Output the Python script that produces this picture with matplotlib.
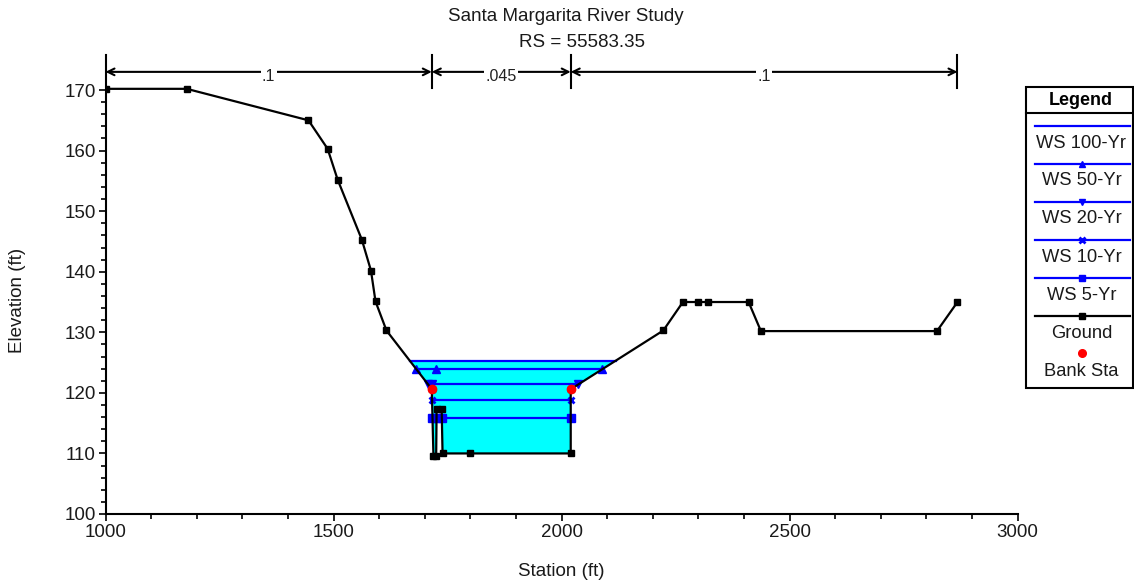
import matplotlib
matplotlib.use('Agg')
import matplotlib.pyplot as plt
import numpy as np
from matplotlib.lines import Line2D
from matplotlib.patches import Rectangle
from matplotlib.ticker import MultipleLocator

plt.rcParams['font.family'] = ['Liberation Sans', 'DejaVu Sans']
FS = 13.5

# ---------------- data ----------------
ground_sta = [1000, 1178, 1445, 1487, 1509, 1562, 1582, 1592, 1616, 1715.4,
              1719, 1725, 1726, 1737, 1739, 1800, 2020, 2020,
              2223, 2266, 2299, 2321, 2410, 2437, 2823, 2868]
ground_elev = [170.2, 170.2, 165.0, 160.3, 155.2, 145.3, 140.2, 135.1, 130.3, 120.6,
               109.6, 109.6, 117.4, 117.4, 110.0, 110.0, 110.0, 120.6,
               130.3, 135.0, 135.0, 135.0, 135.0, 130.2, 130.2, 135.0]
bank_sta = [1715.4, 2020]
bank_elev = [120.6, 120.6]

ws_names = ['WS 100-Yr', 'WS 50-Yr', 'WS 20-Yr', 'WS 10-Yr', 'WS 5-Yr']
ws_elev = [125.3, 123.9, 121.4, 118.9, 115.9]
ws_markers = [None, '^', 'v', 'x', 's']
ws_extra_marker_sta = [[], [1725], [1715.4], [], []]

n_sta = [1000, 1715.4, 2020, 2868]
n_vals = ['.1', '.045', '.1']

title1 = 'Santa Margarita River Study'
title2 = 'RS = 55583.35'

# ---------------- helpers ----------------
def crossings(xs, ys, level):
    out = []
    for i in range(len(xs) - 1):
        y0, y1 = ys[i], ys[i + 1]
        if (y0 - level) * (y1 - level) < 0:
            t = (level - y0) / (y1 - y0)
            out.append(xs[i] + t * (xs[i + 1] - xs[i]))
    return out

W, H = 1134, 584
fig = plt.figure(figsize=(W / 100, H / 100), dpi=100)
ax = fig.add_axes([105.5 / W, (H - 514) / H, 912.2 / W, (514 - 53.7) / H])
ax.set_xlim(1000, 3000)
ax.set_ylim(100, 176)

BLUE = '#0000FF'

# water fill (highest water surface)
top = ws_elev[0]
cr = crossings(ground_sta, ground_elev, top)
xl, xr = cr[0], cr[-1]
poly_x = [xl] + [s for s in ground_sta if xl < s < xr] + [xr]
poly_y = [top] + [e for s, e in zip(ground_sta, ground_elev) if xl < s < xr] + [top]
ax.fill(poly_x, poly_y, color='#00FFFF', lw=0, zorder=1)

# water surface lines
for name, lev, mk, extra in zip(ws_names, ws_elev, ws_markers, ws_extra_marker_sta):
    c = crossings(ground_sta, ground_elev, lev)
    ax.plot([c[0], c[-1]], [lev, lev], color=BLUE, lw=1.6, zorder=3)
    if mk is not None:
        mx = list(c) + list(extra)
        kw = dict(markersize=5.5)
        if mk == 'x':
            kw = dict(markersize=5, markeredgewidth=2)
        ax.plot(mx, [lev] * len(mx), ls='none', marker=mk, color=BLUE, zorder=4, **kw)

# ground
ax.plot(ground_sta, ground_elev, color='black', lw=1.6, marker='s', markersize=5, zorder=5)
ax.plot(bank_sta, bank_elev, ls='none', marker='o', color='red', markersize=6, zorder=6)

# axes styling
for sp in ['top', 'right']:
    ax.spines[sp].set_visible(False)
ax.spines['left'].set_bounds(100, 170)
ax.spines['left'].set_linewidth(1.5)
ax.spines['bottom'].set_linewidth(1.5)
ax.set_yticks(np.arange(100, 171, 10))
ax.set_yticks(np.arange(100, 171, 2), minor=True)
ax.xaxis.set_major_locator(MultipleLocator(500))
ax.xaxis.set_minor_locator(MultipleLocator(100))
ax.tick_params(which='major', direction='out', length=5, width=1.2, labelsize=FS,
               pad=2, labelcolor='#1a1a1a')
ax.tick_params(which='minor', direction='out', length=3.5, width=1.2)

# n-value annotations
y_arrow = 173.0
for i in range(len(n_sta)):
    ax.plot([n_sta[i], n_sta[i]], [170.3, 175.8], color='black', lw=1.5, clip_on=False, zorder=7)
for i, lab in enumerate(n_vals):
    a, b = n_sta[i], n_sta[i + 1]
    ax.annotate('', xy=(b, y_arrow), xytext=(a, y_arrow),
                arrowprops=dict(arrowstyle='<->', lw=1.5, color='black',
                                shrinkA=0, shrinkB=0, mutation_scale=12),
                annotation_clip=False, zorder=7)
    ax.text((a + b) / 2, y_arrow - 0.75, lab, ha='center', va='center', fontsize=FS - 2,
            color='#222222', bbox=dict(facecolor='white', edgecolor='none', pad=1), zorder=8)

# titles and labels
fig.text(565.5 / W, 1 - 20.7 / H, title1, ha='center', va='baseline', fontsize=FS, color='#1a1a1a')
fig.text(581.7 / W, 1 - 46.7 / H, title2, ha='center', va='baseline', fontsize=FS, color='#1a1a1a')
fig.text(561.6 / W, 1 - 572 / H, 'Station (ft)', ha='center', va='center', fontsize=FS,
         color='#1a1a1a')
fig.text(18 / W, 1 - 300 / H, 'Elevation (ft)', ha='center', va='center', rotation=90,
         fontsize=FS, color='#1a1a1a')

# legend box (drawn in figure pixels)
def fx(px):
    return px / W

def fy(py):
    return 1 - py / H

fig.patches.append(Rectangle((fx(1026), fy(388)), fx(1133) - fx(1026), fy(87) - fy(388),
                             transform=fig.transFigure, facecolor='white',
                             edgecolor='black', lw=1.5))
fig.lines.append(Line2D([fx(1026), fx(1133)], [fy(113.3), fy(113.3)],
                        transform=fig.transFigure, color='black', lw=1.5))
fig.text(fx(1081), fy(100.5), 'Legend', ha='center', va='center', fontsize=FS - 0.5,
         fontweight='bold')

leg_line_y = [125.7, 164, 202.3, 240, 278.3, 316]
leg_text_y = [144, 180.7, 218.7, 257.3, 295.3, 333.3]
leg_labels = ws_names + ['Ground']
leg_colors = [BLUE] * 5 + ['black']
leg_markers = ws_markers + ['s']
for ly, ty, lab, col, mk in zip(leg_line_y, leg_text_y, leg_labels, leg_colors, leg_markers):
    fig.lines.append(Line2D([fx(1035), fx(1130)], [fy(ly), fy(ly)], transform=fig.transFigure,
                            color=col, lw=1.6))
    if mk is not None:
        kw = dict(markersize=5)
        if mk == 'x':
            kw = dict(markersize=4.5, markeredgewidth=2)
        fig.lines.append(Line2D([fx(1082)], [fy(ly)], transform=fig.transFigure, color=col,
                                marker=mk, ls='none', **kw))
    fig.text(fx(1081.5), fy(ty), lab, ha='center', va='center', fontsize=FS - 0.3,
             color='#1a1a1a')
fig.lines.append(Line2D([fx(1082)], [fy(352.7)], transform=fig.transFigure, color='red',
                        marker='o', markersize=5.5, ls='none'))
fig.text(fx(1081.5), fy(372), 'Bank Sta', ha='center', va='center', fontsize=FS - 0.3,
         color='#1a1a1a')

fig.savefig('out.png', dpi=100)
